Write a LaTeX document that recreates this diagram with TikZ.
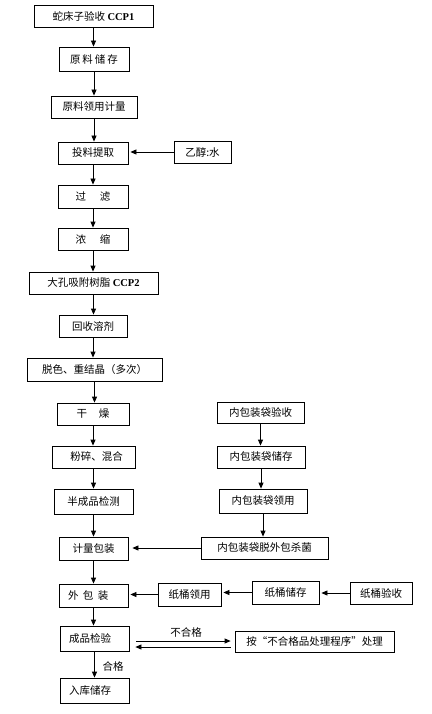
\documentclass[tikz,border=0pt]{standalone}
\usepackage{fontspec}
\setmainfont{Noto Sans CJK SC}
\newfontfamily\tms{Liberation Serif}
\usetikzlibrary{arrows.meta,calc}
\begin{document}
\begin{tikzpicture}[x=1pt,y=-1pt,
  box/.style={draw,line width=0.8pt,inner sep=0pt,font=\fontsize{10.5}{12}\selectfont},
  lbox/.style={box,align=left,inner xsep=9pt,text width=#1},
  arr/.style={-{Triangle[length=6pt,width=5pt]},line width=0.8pt},
  lab/.style={font=\fontsize{10.5}{12}\selectfont,inner sep=0pt}]
\useasboundingbox[fill=white] (0,0) rectangle (431,714);
% main column
\node[box,minimum width=119,minimum height=22] (a1) at (93.5,16) {蛇床子验收 {\tms\bfseries CCP1}};
\node[box,minimum width=70,minimum height=24] (a2) at (94,59) {原\hspace{2pt}料\hspace{2pt}储\hspace{2pt}存};
\node[box,minimum width=86,minimum height=22] (a3) at (94,107) {原料领用计量};
\node[box,minimum width=70,minimum height=22] (a4) at (93,153) {投料提取};
\node[box,minimum width=57,minimum height=22] (eth) at (202.5,152) {乙醇:水};
\node[box,minimum width=70,minimum height=23] (a5) at (93,196.5) {过\hspace{14pt}滤};
\node[box,minimum width=70,minimum height=22] (a6) at (93,239) {浓\hspace{14pt}缩};
\node[box,minimum width=129,minimum height=22] (a7) at (93.5,283) {大孔吸附树脂 {\tms\bfseries CCP2}};
\node[box,minimum width=68,minimum height=22] (a8) at (93,326) {回收溶剂};
\node[box,minimum width=135,minimum height=23] (a9) at (94.5,369.5) {脱色、重结晶（多次）};
\node[box,minimum width=72,minimum height=22] (a10) at (93,414) {干\hspace{12pt}燥};
\node[box,minimum width=83,minimum height=22] (a11) at (93.5,457) {\hspace{6pt}粉碎、混合};
\node[box,minimum width=79,minimum height=25] (a12) at (93.5,501.5) {半成品检测};
\node[box,minimum width=69,minimum height=23] (a13) at (93.5,548.5) {计量包装};
\node[lbox=51,minimum width=69,minimum height=23] (a14) at (93.5,595.5) {外\hspace{4.5pt}包\hspace{4.5pt}装};
\node[lbox=51,minimum width=69,minimum height=25] (a15) at (94.5,638.5) {成品检验};
\node[lbox=51,minimum width=69,minimum height=25] (a16) at (94.5,690.5) {入库储存};
% right column
\node[box,minimum width=87,minimum height=21] (b1) at (260.5,412.5) {内包装袋验收};
\node[box,minimum width=88,minimum height=22] (b2) at (261,457) {内包装袋储存};
\node[box,minimum width=88,minimum height=24] (b3) at (263,501) {内包装袋领用};
\node[box,minimum width=127,minimum height=22] (b4) at (264.5,548) {内包装袋脱外包杀菌};
% paper barrels
\node[box,minimum width=63,minimum height=23] (c1) at (189.5,594.5) {纸桶领用};
\node[box,minimum width=67,minimum height=23] (c2) at (285.5,592.5) {纸桶储存};
\node[box,minimum width=62,minimum height=22] (c3) at (381,593) {纸桶验收};
\node[box,minimum width=159,minimum height=21] (d) at (314.5,641.5) {按“不合格品处理程序”处理};
% vertical arrows main
\foreach \p/\q in {a1/a2,a2/a3,a3/a4,a4/a5,a5/a6,a6/a7,a7/a8,a8/a9,a9/a10,a10/a11,a11/a12,a12/a13,a13/a14,a14/a15,a15/a16}
  \draw[arr] (\p.south) -- (\p.south |- \q.north);
\foreach \p/\q in {b1/b2,b2/b3,b3/b4}
  \draw[arr] (\p.south) -- (\p.south |- \q.north);
% horizontal arrows
\draw[arr,shorten >=2pt] (eth.west) -- (eth.west -| a4.east);
\draw[arr,shorten >=4pt] (b4.west) -- (b4.west -| a13.east);
\draw[arr,shorten >=2pt] (c1.west) -- (c1.west -| a14.east);
\draw[arr,shorten >=2pt] (c2.west) -- (c2.west -| c1.east);
\draw[arr,shorten >=2pt] (c3.west) -- (c3.west -| c2.east);
% reject loop
\coordinate (u1) at ($(a15.east)+(7,2.5)$);
\coordinate (u2) at ($(d.west)+(-4,-0.5)$);
\coordinate (l1) at ($(d.west)+(-4,5.5)$);
\coordinate (l2) at ($(a15.east)+(6,8.5)$);
\draw[arr] (u1) -- (u2);
\draw[arr] (l1) -- (l2);
\node[lab] (bhg) at (186,632) {不合格};
\node[lab] (hg) at (113,666) {合格};
\end{tikzpicture}
\end{document}
